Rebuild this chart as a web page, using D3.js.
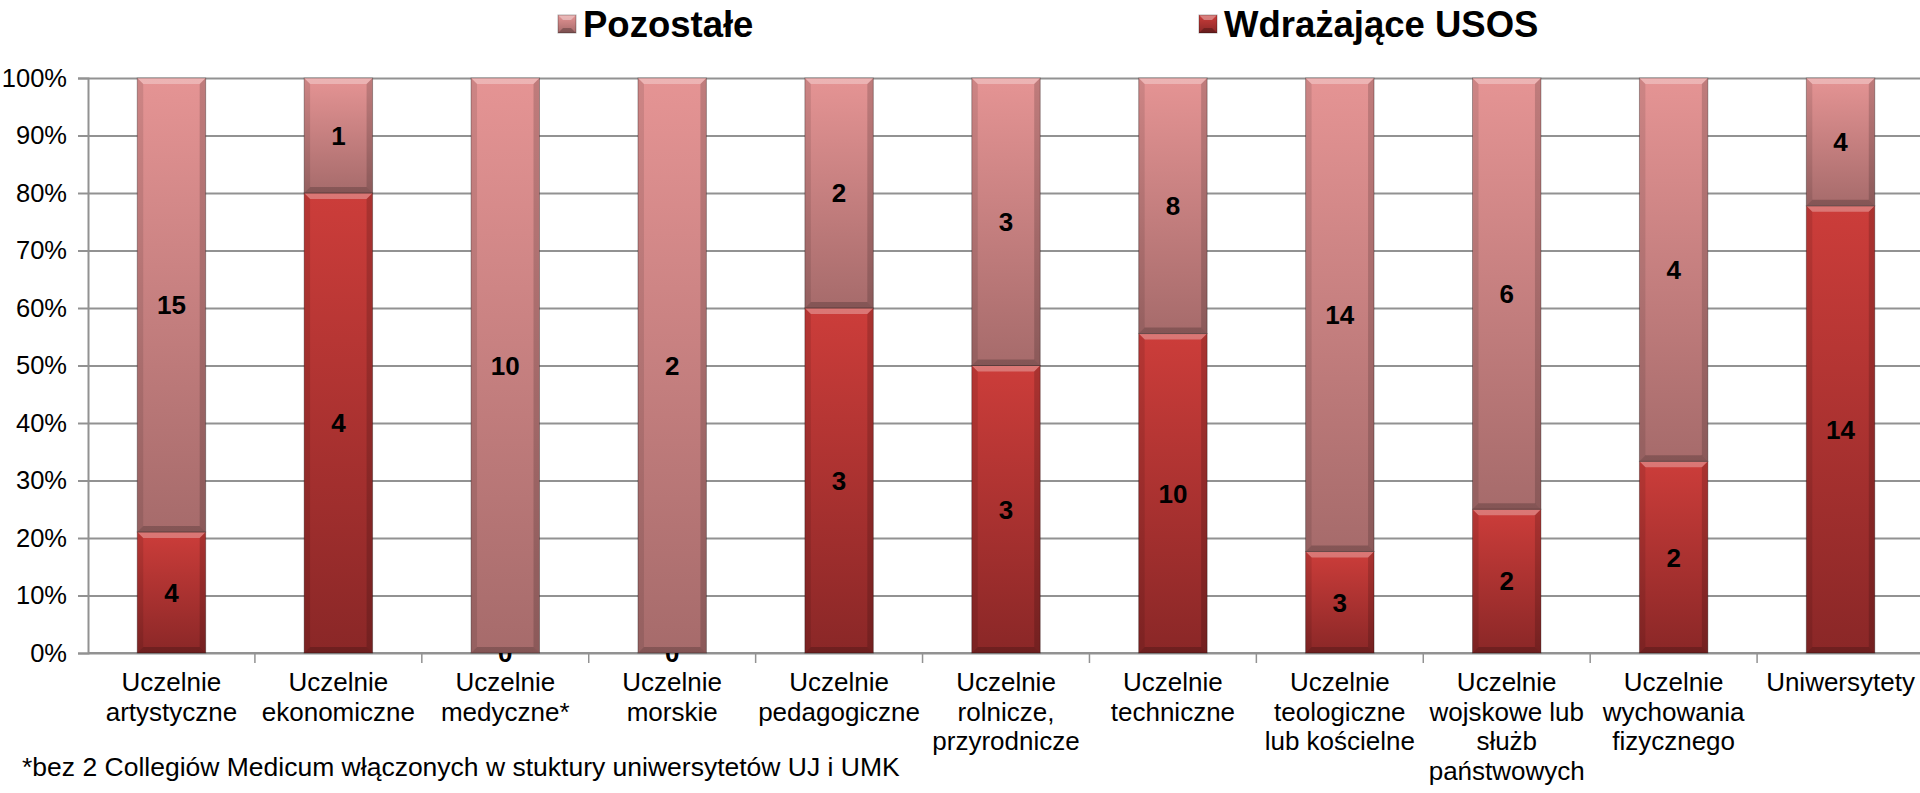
<!DOCTYPE html>
<html>
<head>
<meta charset="utf-8">
<script src="https://cdn.jsdelivr.net/npm/d3@7"></script>
<style>
  body { margin: 0; background: #fff; }
  svg { display: block; font-family: "Liberation Sans", Arial, sans-serif; }
</style>
</head>
<body>
<svg id="chart"></svg>
<script>
// values
const categories = [
    "Uczelnie\nartystyczne", "Uczelnie\nekonomiczne", "Uczelnie\nmedyczne*", "Uczelnie\nmorskie",
    "Uczelnie\npedagogiczne", "Uczelnie\nrolnicze,\nprzyrodnicze", "Uczelnie\ntechniczne",
    "Uczelnie\nteologiczne\nlub kościelne", "Uczelnie\nwojskowe lub\nsłużb\npaństwowych",
    "Uczelnie\nwychowania\nfizycznego", "Uniwersytety"
];
const wdrazajace = [4, 4, 0, 0, 3, 3, 10, 3, 2, 2, 14];
const pozostale = [15, 1, 10, 2, 2, 3, 8, 14, 6, 4, 4];
const seriesNames = ["Wdrażające USOS", "Pozostałe"];
const yTicks = [0, 0.1, 0.2, 0.3, 0.4, 0.5, 0.6, 0.7, 0.8, 0.9, 1];
const footnote = "*bez 2 Collegiów Medicum włączonych w stuktury uniwersytetów UJ i UMK";

const width = 1920, height = 793;
const plotLeft = 88, plotRight = 1924, plotTop = 78, plotBottom = 653;

const svg = d3.select("#chart").attr("width", width).attr("height", height);
const defs = svg.append("defs");

// vertical gradients for each series
const grads = [["#cc3d3a", "#8a2727"], ["#e59494", "#a66b6b"]];
grads.forEach((c, i) => {
    const g = defs.append("linearGradient").attr("id", "grad" + i)
        .attr("x1", 0).attr("y1", 0).attr("x2", 0).attr("y2", 1);
    g.append("stop").attr("offset", "0%").attr("stop-color", c[0]);
    g.append("stop").attr("offset", "100%").attr("stop-color", c[1]);
});
const gradId = name => name === seriesNames[0] ? "url(#grad0)" : "url(#grad1)";

const data = categories.map((c, i) => ({ cat: c, "Wdrażające USOS": wdrazajace[i], "Pozostałe": pozostale[i] }));
const stack = d3.stack().keys(seriesNames).offset(d3.stackOffsetExpand);
const series = stack(data);

const x = d3.scaleBand().domain(categories).range([plotLeft, plotRight]).paddingInner(0.59).paddingOuter(0.295);
const y = d3.scaleLinear().domain([0, 1]).range([plotBottom, plotTop]);

// gridlines
svg.append("g")
    .attr("transform", `translate(${plotLeft},0)`)
    .call(d3.axisLeft(y).tickValues(yTicks).tickSize(-(plotRight - plotLeft)).tickFormat(""))
    .call(g => g.select(".domain").remove())
    .call(g => g.selectAll("line").attr("stroke", "#929292").attr("stroke-width", 2));

// y axis with labels
svg.append("g")
    .attr("transform", `translate(${plotLeft},0)`)
    .call(d3.axisLeft(y).tickValues(yTicks).tickSize(10).tickPadding(11).tickFormat(d3.format(".0%")))
    .call(g => g.select(".domain").attr("stroke", "#929292").attr("stroke-width", 2))
    .call(g => g.selectAll("line").attr("stroke", "#929292").attr("stroke-width", 2))
    .call(g => g.selectAll("text").attr("fill", "#000").style("font-size", "25.5px").attr("font-family", null));

// x axis line and ticks at band boundaries
const xAxis = svg.append("g");
xAxis.append("line")
    .attr("x1", plotLeft).attr("x2", plotRight).attr("y1", plotBottom).attr("y2", plotBottom)
    .attr("stroke", "#929292").attr("stroke-width", 2);
xAxis.selectAll(".xtick").data(categories.slice(1))
    .enter().append("line")
    .attr("x1", d => x(d) - x.step() * x.paddingInner() / 2)
    .attr("x2", d => x(d) - x.step() * x.paddingInner() / 2)
    .attr("y1", plotBottom).attr("y2", plotBottom + 10)
    .attr("stroke", "#929292").attr("stroke-width", 1.5);

// category labels
const labels = svg.append("g").selectAll("text").data(categories).enter().append("text")
    .attr("text-anchor", "middle")
    .attr("x", d => x(d) + x.bandwidth() / 2)
    .attr("y", 691)
    .style("font-size", "26px")
    .attr("fill", "#000");
labels.each(function(d) {
    const t = d3.select(this);
    d.split("\n").forEach((line, i) => {
        t.append("tspan").attr("x", x(d) + x.bandwidth() / 2).attr("dy", i === 0 ? 0 : 29.5).text(line);
    });
});

// bars with a bevel look
const b = 6;
const barGroups = svg.append("g").selectAll("g").data(series).enter().append("g");
barGroups.each(function(s) {
    const g = d3.select(this);
    s.forEach(d => {
        const x0 = x(d.data.cat), x1 = x0 + x.bandwidth();
        const y0 = y(d[1]), y1 = y(d[0]);
        if (y1 - y0 < 0.5) return;
        const seg = g.append("g");
        seg.append("rect")
            .attr("x", x0).attr("y", y0).attr("width", x1 - x0).attr("height", y1 - y0)
            .attr("fill", gradId(s.key));
        seg.append("path")
            .attr("d", `M${x0},${y0}L${x1},${y0}L${x1 - b},${y0 + b}L${x0 + b},${y0 + b}Z`)
            .attr("fill", "#fff").attr("opacity", 0.3);
        seg.append("path")
            .attr("d", `M${x0},${y0}L${x0 + b},${y0 + b}L${x0 + b},${y1 - b}L${x0},${y1}Z`)
            .attr("fill", "#000").attr("opacity", 0.1);
        seg.append("path")
            .attr("d", `M${x1},${y0}L${x1 - b},${y0 + b}L${x1 - b},${y1 - b}L${x1},${y1}Z`)
            .attr("fill", "#000").attr("opacity", 0.16);
        seg.append("path")
            .attr("d", `M${x0},${y1}L${x0 + b},${y1 - b}L${x1 - b},${y1 - b}L${x1},${y1}Z`)
            .attr("fill", "#000").attr("opacity", 0.2);
        seg.append("rect")
            .attr("x", x0).attr("y", y0).attr("width", x1 - x0).attr("height", y1 - y0)
            .attr("fill", "none").attr("stroke", "#000").attr("stroke-opacity", 0.3).attr("stroke-width", 1);
    });
});

// value labels
barGroups.each(function(s) {
    d3.select(this).selectAll(".val").data(s).enter().append("text")
        .attr("class", "val")
        .attr("x", d => x(d.data.cat) + x.bandwidth() / 2)
        .attr("y", d => y((d[0] + d[1]) / 2))
        .attr("dy", "0.36em")
        .attr("text-anchor", "middle")
        .style("font-size", "26px")
        .style("font-weight", "bold")
        .attr("fill", "#000")
        .text(d => d.data[s.key]);
});

// legend
const legendItems = [
    { name: "Pozostałe", x: 583 },
    { name: "Wdrażające USOS", x: 1224 }
];
const legend = svg.append("g").selectAll("g").data(legendItems).enter().append("g")
    .attr("transform", d => `translate(${d.x},0)`);
const sw = legend.append("g").attr("transform", "translate(-25,15)");
sw.append("rect").attr("width", 18).attr("height", 18).attr("fill", d => gradId(d.name));
sw.append("path").attr("d", "M0,0L18,0L13,5L5,5Z").attr("fill", "#fff").attr("opacity", 0.35);
sw.append("path").attr("d", "M0,18L5,13L13,13L18,18Z").attr("fill", "#000").attr("opacity", 0.25);
sw.append("rect").attr("width", 18).attr("height", 18).attr("fill", "none")
    .attr("stroke", "#000").attr("stroke-opacity", 0.3);
legend.append("text")
    .attr("x", 0).attr("y", 37)
    .style("font-size", "36.5px").style("font-weight", "bold")
    .text(d => d.name);

// footnote
svg.append("text")
    .attr("x", 22).attr("y", 776)
    .style("font-size", "26.5px")
    .text(footnote);
</script>
</body>
</html>
